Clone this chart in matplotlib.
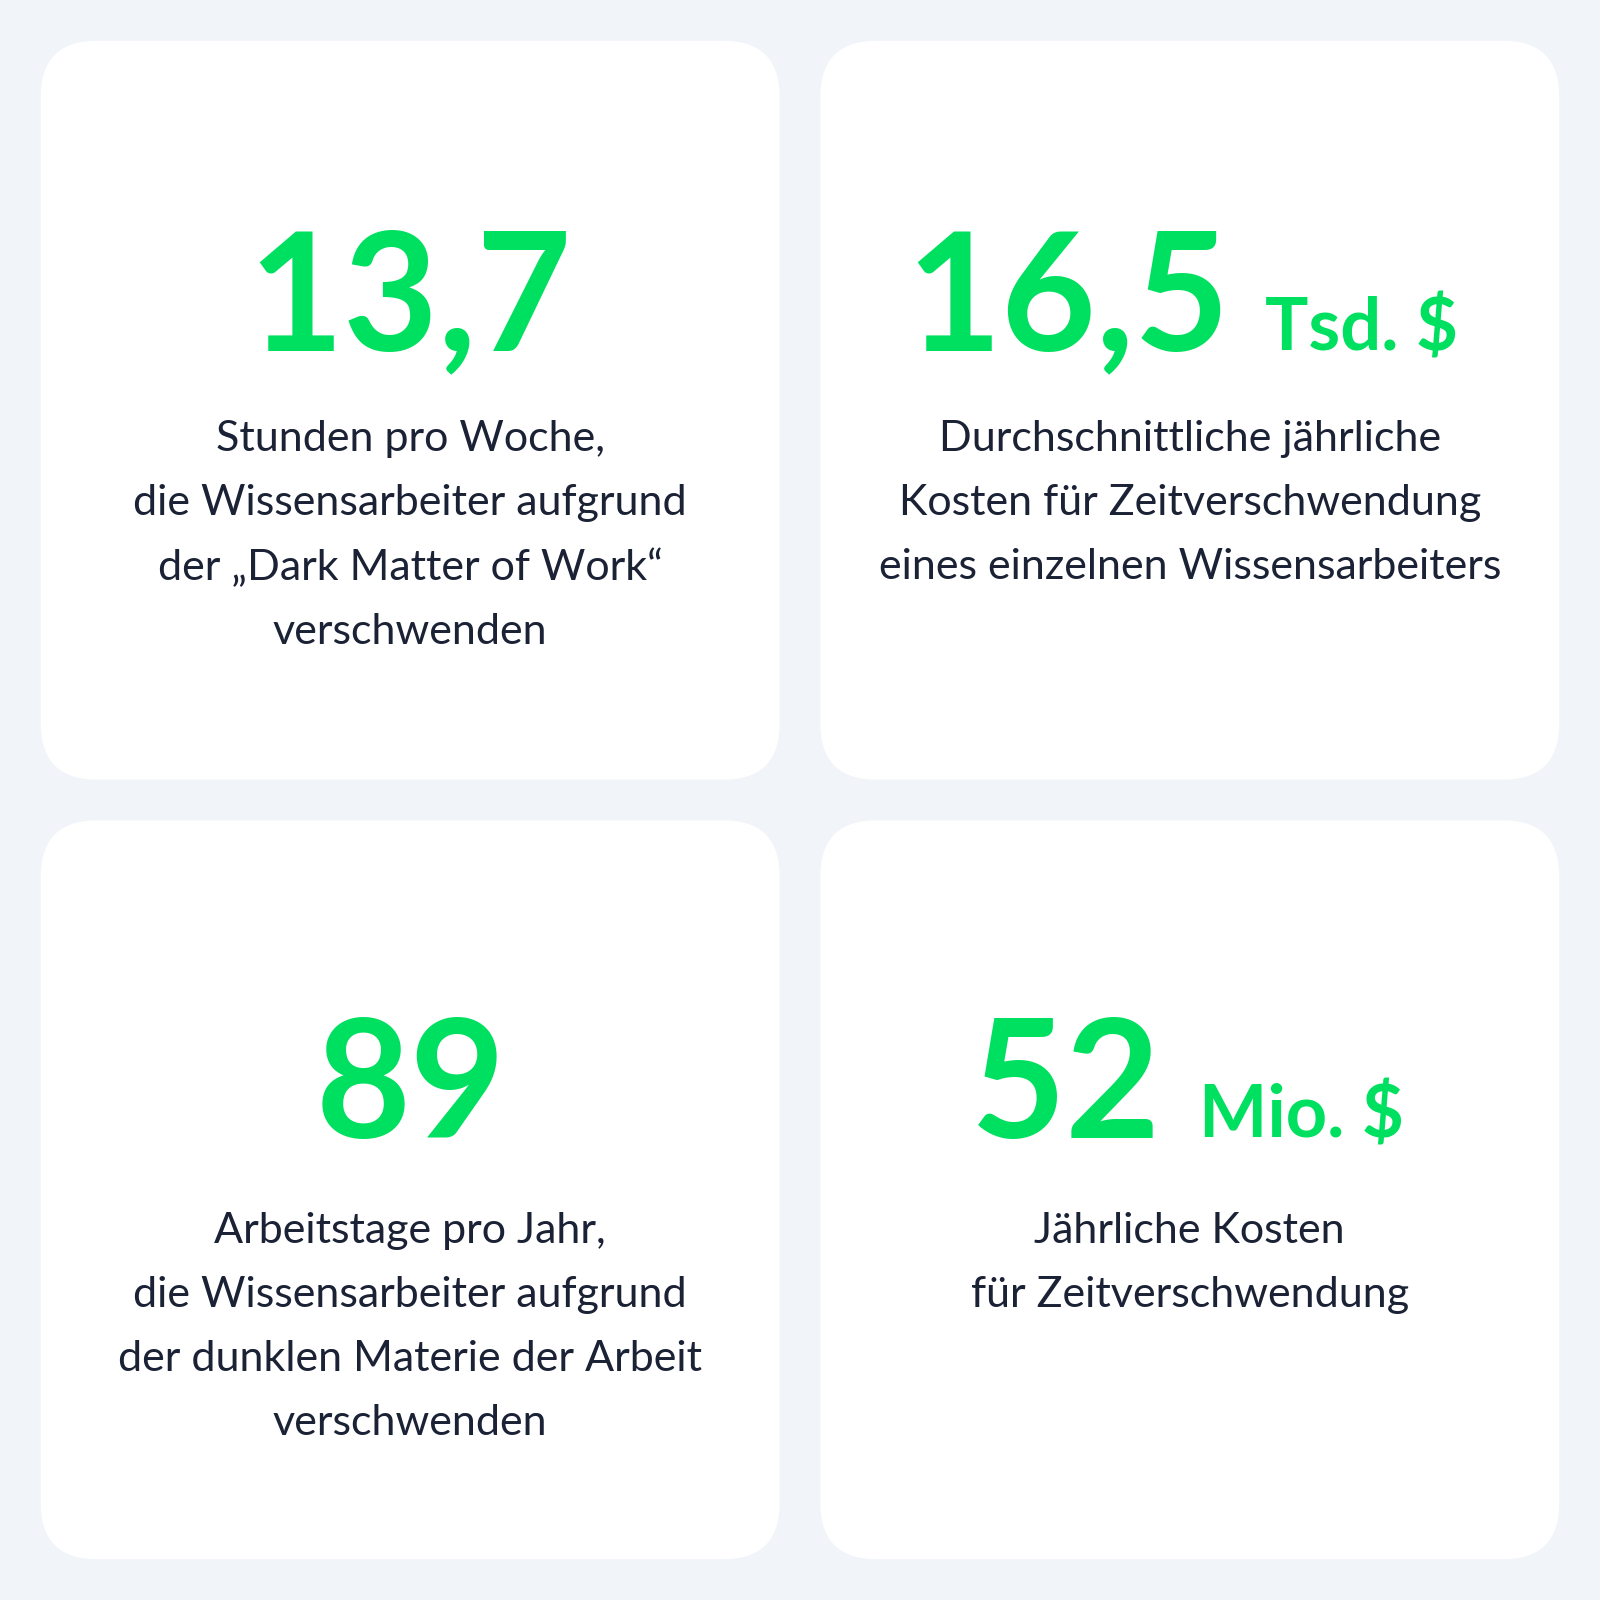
import matplotlib
matplotlib.use("Agg")
import matplotlib.pyplot as plt
from matplotlib.patches import FancyBboxPatch

values = ["13,7", "16,5", "89", "52"]
suffixes = ["", "Tsd. $", "", "Mio. $"]
descriptions = [
    ["Stunden pro Woche,", "die Wissensarbeiter aufgrund", "der „Dark Matter of Work“", "verschwenden"],
    ["Durchschnittliche jährliche", "Kosten für Zeitverschwendung", "eines einzelnen Wissensarbeiters"],
    ["Arbeitstage pro Jahr,", "die Wissensarbeiter aufgrund", "der dunklen Materie der Arbeit", "verschwenden"],
    ["Jährliche Kosten", "für Zeitverschwendung"],
]

BG = "#f1f5f9"
GREEN = "#00e060"
DARK = "#1b2235"
W = 1568

fig = plt.figure(figsize=(16, 16), dpi=100, facecolor=BG)
ax = fig.add_axes([0, 0, 1, 1])
ax.set_xlim(0, W)
ax.set_ylim(W, 0)
ax.axis("off")
ax.set_facecolor(BG)

cards = [(40, 40), (804, 40), (40, 804), (804, 804)]
size = 724
for i, (x0, y0) in enumerate(cards):
    ax.add_patch(FancyBboxPatch((x0 + 55, y0 + 55), size - 110, size - 110,
                                boxstyle="round,pad=55", fc="white", ec="none"))
    cx = x0 + size / 2
    base = y0 + 303 if i < 2 else y0 + 311
    if suffixes[i]:
        rgt, lft = (39, 74) if i == 1 else (-28, 9)
        ax.text(cx + rgt, base, values[i], color=GREEN, fontsize=118, fontweight="bold",
                family="Lato", ha="right", va="baseline")
        ax.text(cx + lft, base, suffixes[i], color=GREEN, fontsize=52, fontweight="bold",
                family="Lato", ha="left", va="baseline")
    else:
        ax.text(cx, base, values[i], color=GREEN, fontsize=118, fontweight="bold",
                family="Lato", ha="center", va="baseline")
    ty = y0 + 390 if i < 2 else y0 + 402
    for j, line in enumerate(descriptions[i]):
        ax.text(cx, ty + j * 63, line, color=DARK, fontsize=31,
                family="Lato", ha="center", va="center")

fig.savefig("out.png", dpi=100, facecolor=BG)
